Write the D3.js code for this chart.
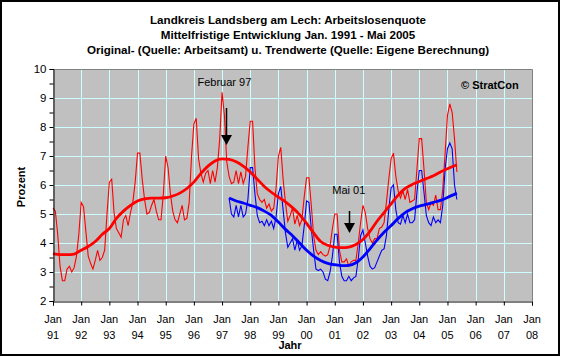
<!DOCTYPE html>
<html><head><meta charset="utf-8">
<script src="https://cdn.jsdelivr.net/npm/d3@7"></script>
<style>
html,body{margin:0;padding:0;background:#fff;}
svg{display:block;font-family:"Liberation Sans",Arial,sans-serif;}
</style></head>
<body>
<svg id="chart" width="561" height="357"></svg>
<script>
// ---- data (month index 0 = Jan 1991) ----
const titleLines = [
  "Landkreis Landsberg am Lech: Arbeitslosenquote",
  "Mittelfristige Entwicklung Jan. 1991 - Mai 2005",
  "Original- (Quelle: Arbeitsamt) u. Trendwerte (Quelle: Eigene Berechnung)"
];
const yearLabels = ["91","92","93","94","95","96","97","98","99","00","01","02","03","04","05","06","07","08"];
const yTicks = [2,3,4,5,6,7,8,9,10];

// Red: original values, monthly Jan 1991 - May 2005
const redStart = 0;
const redOriginal = [
  5.2, 5.1, 4.3, 3.2, 2.7, 2.7, 3.1, 3.2, 3.0, 3.15, 3.55, 4.3,
  5.4, 5.25, 4.4, 3.55, 3.3, 3.1, 3.4, 3.75, 3.4, 3.5, 3.75, 5.0,
  6.1, 6.2, 5.05, 4.5, 4.35, 4.2, 4.8, 4.95, 4.6, 5.05, 5.4, 6.1,
  7.1, 7.1, 6.2, 5.5, 5.0, 5.05, 5.3, 5.5, 5.1, 4.8, 4.8, 5.7,
  7.0, 6.6, 5.7, 5.1, 4.8, 4.7, 5.0, 5.3, 4.8, 4.85, 5.4, 7.0,
  8.1, 8.3, 6.9, 6.4, 6.1, 6.4, 6.5, 6.05, 6.5, 6.1, 6.6, 7.6,
  9.2, 8.4, 6.8, 6.3, 6.05, 6.1, 6.5, 6.05, 6.45, 6.05, 6.3, 7.3,
  8.2, 8.2, 6.6, 5.7, 5.5, 5.4, 5.5, 5.2, 5.35, 5.1, 5.2, 5.9,
  7.0, 7.3, 6.2, 5.4, 4.75, 4.95, 5.2, 4.65, 4.95, 4.6, 4.8, 5.6,
  6.25, 6.25, 5.3, 4.25, 3.75, 3.6, 3.7, 3.6, 3.55, 3.6, 3.9, 4.5,
  5.0, 5.0, 3.75, 3.35, 3.35, 3.45, 3.2, 3.35, 3.4, 3.4, 4.0, 4.7,
  5.3, 5.05, 4.5, 4.15, 4.0, 4.15, 4.15, 4.5, 4.55, 4.7, 5.4, 6.2,
  6.9, 7.1, 6.3, 5.8, 5.55, 5.8, 5.5, 5.85, 5.4, 5.45, 5.5, 6.55,
  7.6, 7.6, 6.55, 5.4, 5.15, 5.4, 5.3, 5.65, 5.15, 5.15, 5.85, 7.1,
  8.4, 8.8, 8.5, 7.6, 6.45
];
// Red trend, read at [month, value]
const redTrend = [
  [0,3.63],[3,3.6],[6,3.6],[9,3.62],[12,3.75],[15,3.88],[18,4.05],[21,4.3],[24,4.5],
  [27,4.85],[30,5.1],[33,5.3],[36,5.45],[39,5.52],[42,5.55],[45,5.55],[48,5.56],[51,5.62],
  [54,5.72],[57,5.88],[60,6.1],[63,6.4],[66,6.65],[69,6.83],[72,6.9],[75,6.88],[78,6.8],
  [81,6.65],[84,6.45],[87,6.2],[90,5.95],[93,5.75],[96,5.58],[99,5.42],[102,5.22],[105,4.98],
  [108,4.68],[111,4.35],[114,4.05],[117,3.92],[120,3.86],[123,3.84],[126,3.86],[129,3.95],
  [132,4.12],[135,4.4],[138,4.75],[141,5.05],[144,5.35],[147,5.65],[150,5.88],[153,6.02],
  [156,6.12],[159,6.22],[162,6.32],[165,6.45],[168,6.56],[172,6.7]
];
// Blue: original values, monthly Apr 1997 - May 2005
const blueStart = 75;
const blueOriginal = [
  5.55, 5.0, 4.9, 5.3, 4.9, 5.3, 4.9, 5.0, 5.5,
  6.6, 6.6, 5.7, 4.95, 4.7, 4.75, 4.6, 4.8, 4.6, 4.75, 4.5, 4.9,
  5.7, 5.95, 5.15, 4.35, 3.85, 4.0, 4.15, 3.75, 4.1, 3.75, 3.9, 4.6,
  5.45, 5.4, 4.5, 3.75, 3.1, 3.05, 3.1, 3.0, 2.75, 2.7, 3.0, 3.55,
  4.3, 4.3, 3.35, 2.85, 2.7, 2.7, 2.85, 2.7, 2.8, 2.85, 3.45, 4.25,
  4.45, 4.0, 3.55, 3.2, 3.1, 3.15, 3.35, 3.55, 3.75, 3.8, 4.25, 5.15,
  5.9, 6.0, 5.15, 4.7, 4.65, 4.95, 4.7, 5.0, 4.7, 4.7, 4.8, 5.75,
  6.5, 6.5, 5.75, 4.95, 4.7, 4.6, 4.9, 4.7, 4.8, 4.7, 5.3, 6.55,
  7.25, 7.45, 7.25, 6.0, 5.5
];
const blueTrend = [
  [75,5.55],[78,5.45],[81,5.38],[84,5.3],[87,5.22],[90,5.1],[93,4.95],[96,4.72],[99,4.47],
  [102,4.25],[105,4.0],[108,3.75],[111,3.55],[114,3.4],[117,3.3],[120,3.25],[123,3.22],
  [126,3.23],[129,3.32],[132,3.52],[135,3.8],[138,4.1],[141,4.37],[144,4.6],[147,4.85],
  [150,5.05],[153,5.18],[156,5.27],[159,5.33],[162,5.4],[165,5.47],[168,5.57],[172,5.72]
];
const annotations = [
  {label:"Februar 97", month:73.5, textMonth:73, textY:86, top:108, tip:145},
  {label:"Mai 01", month:126, textMonth:126, textY:194, top:211, tip:233}
];

// ---- drawing ----
const svg = d3.select("#chart");
const W = 561, H = 357;
const L = 53, R = 532, T = 69, B = 301;

svg.append("rect").attr("x",0).attr("y",0).attr("width",W).attr("height",H).attr("fill","#fff");
svg.append("rect").attr("x",1).attr("y",1).attr("width",W-3).attr("height",H-3)
  .attr("fill","none").attr("stroke","#000").attr("stroke-width",2);

const x = d3.scaleLinear().domain([0, 204]).range([L, R]);
const y = d3.scaleLinear().domain([2, 10]).range([B, T]);

// title
svg.append("g").selectAll("text").data(titleLines).join("text")
  .attr("x", 288).attr("y", (d,i) => 24 + i*15)
  .attr("text-anchor","middle").attr("font-weight","bold").attr("font-size","11.6px")
  .attr("fill","#000").text(d => d);

// plot background
svg.append("rect").attr("x",L).attr("y",T).attr("width",R-L).attr("height",B-T).attr("fill","#c0c0c0");

// gridlines
const grid = svg.append("g").attr("stroke","#ccffff").attr("stroke-width",1);
grid.selectAll("line.v").data(d3.range(12, 204, 12)).join("line")
  .attr("x1", d => Math.round(x(d))+0.5).attr("x2", d => Math.round(x(d))+0.5)
  .attr("y1", T).attr("y2", B);
grid.selectAll("line.h").data(yTicks.slice(1, -1)).join("line")
  .attr("x1", L).attr("x2", R)
  .attr("y1", d => Math.round(y(d))+0.5).attr("y2", d => Math.round(y(d))+0.5);

// plot border (top/right gray)
svg.append("path").attr("d", `M${L},${T+0.5}H${R+0.5}V${B}`)
  .attr("fill","none").attr("stroke","#808080").attr("stroke-width",1);

// series
const monthLine = d3.line().x(d => x(d[0])).y(d => y(d[1]));
const trendLine = d3.line().x(d => x(d[0])).y(d => y(d[1])).curve(d3.curveMonotoneX);
const redOrigPts = redOriginal.map((v,i) => [redStart+i, v]);
const blueOrigPts = blueOriginal.map((v,i) => [blueStart+i, v]);

svg.append("path").datum(redOrigPts).attr("d", monthLine)
  .attr("fill","none").attr("stroke","#ff0000").attr("stroke-width",1.1);
svg.append("path").datum(blueOrigPts).attr("d", monthLine)
  .attr("fill","none").attr("stroke","#0000ff").attr("stroke-width",1.1);
svg.append("path").datum(redTrend).attr("d", trendLine)
  .attr("fill","none").attr("stroke","#ff0000").attr("stroke-width",2.8);
svg.append("path").datum(blueTrend).attr("d", trendLine)
  .attr("fill","none").attr("stroke","#0000ff").attr("stroke-width",2.8);

// y axis
const yAxis = d3.axisLeft(y).tickValues(d3.range(2, 10.01, 0.5)).tickSize(4).tickPadding(3)
  .tickFormat(d => Number.isInteger(d) ? d : "");
const gy = svg.append("g").attr("transform", `translate(${L+0.5},0)`).call(yAxis);
gy.select(".domain").attr("stroke","#000");
gy.selectAll(".tick line").attr("stroke","#000");
gy.selectAll("text").attr("font-size","11.5px").attr("font-family","Liberation Sans, Arial, sans-serif").attr("fill","#000");

// x axis
const xAxis = d3.axisBottom(x).tickValues(d3.range(0, 205, 12)).tickSize(4).tickFormat("");
const gx = svg.append("g").attr("transform", `translate(0,${B+0.5})`).call(xAxis);
gx.select(".domain").attr("stroke","#000");
gx.selectAll(".tick line").attr("stroke","#000");
const xl = svg.append("g").selectAll("g").data(yearLabels).join("g")
  .attr("transform", (d,i) => `translate(${x(i*12)},0)`);
xl.append("text").attr("y", 323).attr("text-anchor","middle").attr("font-size","11px").text("Jan");
xl.append("text").attr("y", 339).attr("text-anchor","middle").attr("font-size","11px").text(d => d);

// axis titles
svg.append("text").attr("transform","translate(25,187) rotate(-90)")
  .attr("text-anchor","middle").attr("font-weight","bold").attr("font-size","11px").text("Prozent");
svg.append("text").attr("x", 290).attr("y", 349)
  .attr("text-anchor","middle").attr("font-weight","bold").attr("font-size","11px").text("Jahr");

// copyright
svg.append("text").attr("x", 461).attr("y", 89).attr("font-weight","bold").attr("font-size","11px").text("© StratCon");

// annotations
annotations.forEach(a => {
  const ax = Math.round(x(a.month)) + 0.5;
  svg.append("text").attr("x", x(a.textMonth)).attr("y", a.textY)
    .attr("text-anchor","middle").attr("font-size","11px").text(a.label);
  svg.append("line").attr("x1", ax).attr("x2", ax).attr("y1", a.top).attr("y2", a.tip - 8)
    .attr("stroke","#000").attr("stroke-width",1.5);
  svg.append("path").attr("d", `M${ax-5.5},${a.tip-10}L${ax+5.5},${a.tip-10}L${ax},${a.tip}Z`).attr("fill","#000");
});
</script>
</body></html>
